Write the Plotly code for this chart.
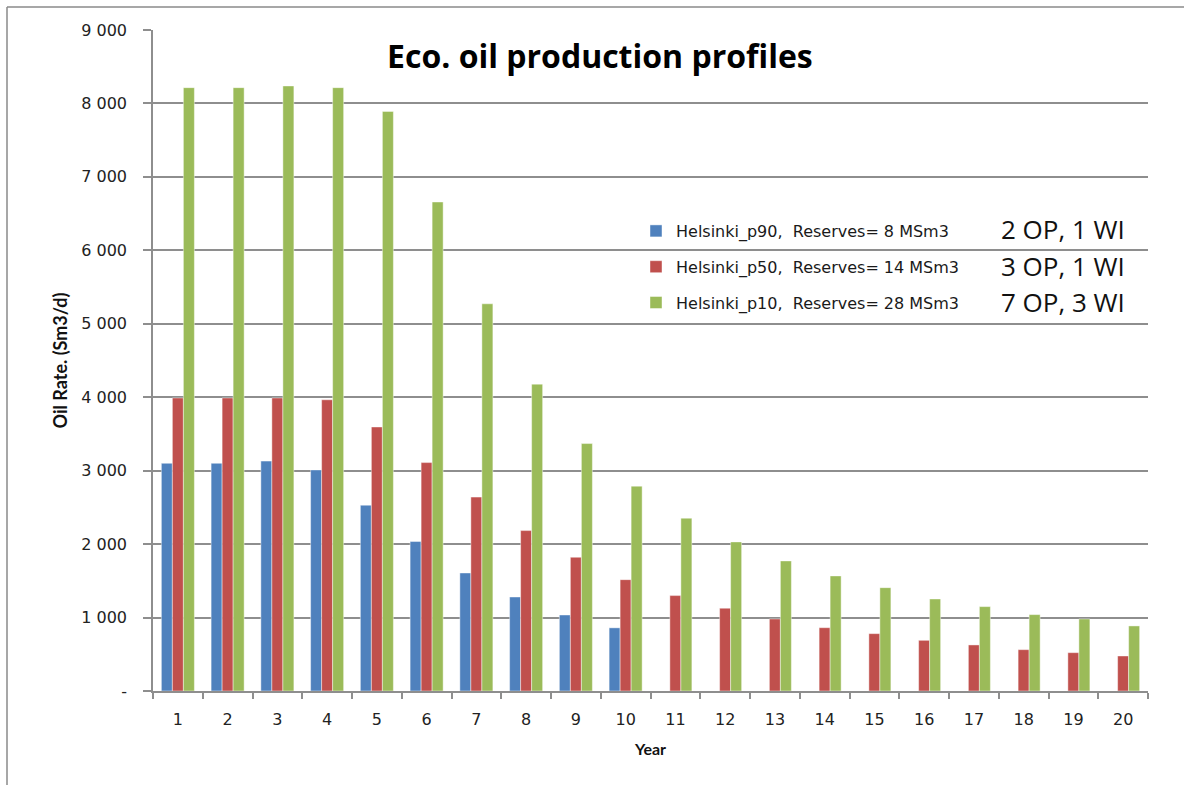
import plotly.graph_objects as go

# Production profiles, oil rate in Sm3/d per year
years = list(range(1, 21))
p90_years = list(range(1, 11))
p90_rate = [3100, 3100, 3130, 3010, 2530, 2035, 1607, 1280, 1035, 860]
p50_rate = [3990, 3990, 3990, 3965, 3595, 3110, 2640, 2184, 1821, 1516,
            1299, 1127, 981, 862, 781, 690, 627, 563, 522, 477]
p10_rate = [8215, 8215, 8238, 8215, 7892, 6658, 5272, 4178, 3369, 2789,
            2353, 2030, 1771, 1567, 1407, 1253, 1149, 1040, 981, 886]

series_names = [
    "Helsinki_p90,  Reserves= 8 MSm3",
    "Helsinki_p50,  Reserves= 14 MSm3",
    "Helsinki_p10,  Reserves= 28 MSm3",
]
well_counts = ["2 OP, 1 WI", "3 OP, 1 WI", "7 OP, 3 WI"]
colors = ["#4F81BD", "#C0504D", "#9BBB59"]

y_ticks = [0, 1000, 2000, 3000, 4000, 5000, 6000, 7000, 8000, 9000]
y_tick_text = ["-", "1 000", "2 000", "3 000", "4 000", "5 000",
               "6 000", "7 000", "8 000", "9 000"]

W, H = 1184, 785
ml, mr, mt, mb = 153, 36, 30, 94
pw, ph = W - ml - mr, H - mt - mb


def px_x(x):
    return (x - ml) / pw


def px_y(y):
    return (H - mb - y) / ph


fig = go.Figure()
for name, xs, ys, col in zip(series_names,
                             [p90_years, years, years],
                             [p90_rate, p50_rate, p10_rate], colors):
    fig.add_trace(go.Bar(
        x=xs, y=ys, name=name, legendgroup=name,
        marker=dict(color=col, line=dict(color="rgba(255,255,255,0.55)", width=0.8)),
    ))

grid = "#8E8E8E"
font_tick = "DejaVu Sans, Verdana, sans-serif"
font_title = "Lato, Calibri, sans-serif"
font_wide = "Open Sans, Calibri, sans-serif"

fig.update_layout(
    width=W, height=H,
    margin=dict(l=ml, r=mr, t=mt, b=mb),
    paper_bgcolor="white", plot_bgcolor="white",
    barmode="group", bargap=0.336, bargroupgap=0,
    showlegend=True,
    legend=dict(
        x=px_x(636), y=px_y(214), xanchor="left", yanchor="top",
        bgcolor="rgba(0,0,0,0)", tracegroupgap=12,
        font=dict(family=font_tick, size=16, color="#1a1a1a"),
    ),
    xaxis=dict(
        type="category", tickmode="array", tickvals=years,
        ticktext=[str(y) for y in years],
        tickson="boundaries", ticks="outside", ticklen=6, tickcolor=grid, tickwidth=1.5,
        showline=True, linecolor=grid, linewidth=1.5, showgrid=False,
        tickfont=dict(family=font_tick, size=16, color="#222"),
        ticklabelstandoff=13,
        title=dict(text="<b>Year</b>", font=dict(family=font_title, size=16, color="#111"),
                   standoff=16),
    ),
    yaxis=dict(
        range=[0, 9000], tickmode="array", tickvals=y_ticks, ticktext=y_tick_text,
        ticks="outside", ticklen=8, tickcolor=grid, tickwidth=1.5,
        showline=True, linecolor=grid, linewidth=1.5,
        showgrid=True, gridcolor=grid, gridwidth=1.5,
        zeroline=False,
        tickfont=dict(family=font_tick, size=16, color="#222"),
        ticklabelstandoff=13,
        title=dict(text="<b>Oil Rate. (Sm3/d)</b>",
                   font=dict(family=font_title, size=18, color="#111"), standoff=9),
    ),
)

# Chart title inside the plot area
fig.add_annotation(
    text="<b>Eco. oil production profiles</b>", xref="paper", yref="paper",
    x=px_x(600), y=px_y(55), xanchor="center", yanchor="middle", showarrow=False,
    font=dict(family=font_wide, size=32, color="#000"),
)

# Well counts next to each legend entry
for label, yc in zip(well_counts, [229, 266, 302]):
    fig.add_annotation(
        text=label, xref="paper", yref="paper",
        x=px_x(999), y=px_y(yc), xanchor="left", yanchor="middle", showarrow=False,
        font=dict(family=font_wide, size=26, color="#111"),
    )

# Outer chart frame
frame = dict(color="#8A8A8A", width=1.5)
fig.add_shape(type="line", xref="paper", yref="paper",
              x0=px_x(7), x1=px_x(7), y0=px_y(7), y1=px_y(H + 5), line=frame)
fig.add_shape(type="line", xref="paper", yref="paper",
              x0=px_x(7), x1=px_x(W + 5), y0=px_y(7), y1=px_y(7), line=frame)

fig.write_html("out.html")
